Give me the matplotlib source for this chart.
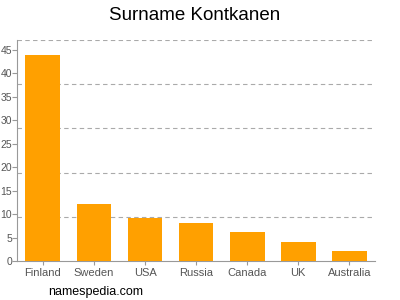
import matplotlib
matplotlib.use("Agg")
import matplotlib.pyplot as plt
import numpy as np

countries = ["Finland", "Sweden", "USA", "Russia", "Canada", "UK", "Australia"]
values = [44, 12.2, 9.1, 8.1, 6.1, 4.1, 2.1]
yticks = [0, 5, 10, 15, 20, 25, 30, 35, 40, 45]
title = "Surname Kontkanen"
watermark = "namespedia.com"

plt.rcParams['font.family'] = ['Liberation Sans', 'DejaVu Sans']

fig = plt.figure(figsize=(4, 3), dpi=100)
ax = fig.add_axes([0.0433, 0.13, 0.894, 0.7367])

x = np.arange(len(countries))
ax.bar(x, values, width=0.68, color="#FFA000", zorder=3)
ax.set_xlim(-0.5, len(countries) - 0.5)
ymax = 47.1
ax.set_ylim(0, ymax)

for g in np.linspace(0, ymax, 6)[1:]:
    ax.axhline(g, color="#aaaaaa", linestyle=(0, (4, 3)), linewidth=0.8, zorder=1)

ax.set_yticks(yticks)
ax.set_yticklabels([str(t) for t in yticks])
ax.set_xticks(x)
ax.set_xticklabels(countries)
ax.tick_params(axis='y', labelsize=7.5, colors="#999999", labelcolor="#555555", length=3.5, width=0.8, pad=0.3)
ax.tick_params(axis='x', labelsize=8, colors="#999999", labelcolor="#555555", length=3, width=0.8, pad=2)

for s in ["top", "right"]:
    ax.spines[s].set_visible(False)
for s in ["left", "bottom"]:
    ax.spines[s].set_color("#999999")
    ax.spines[s].set_linewidth(0.8)

fig.text(0.4875, 0.95, title, ha="center", va="center", fontsize=13.5, color="#000000")
fig.text(0.12, 0.028, watermark, ha="left", va="center", fontsize=9, color="#000000")

fig.savefig("out.png", dpi=100)
